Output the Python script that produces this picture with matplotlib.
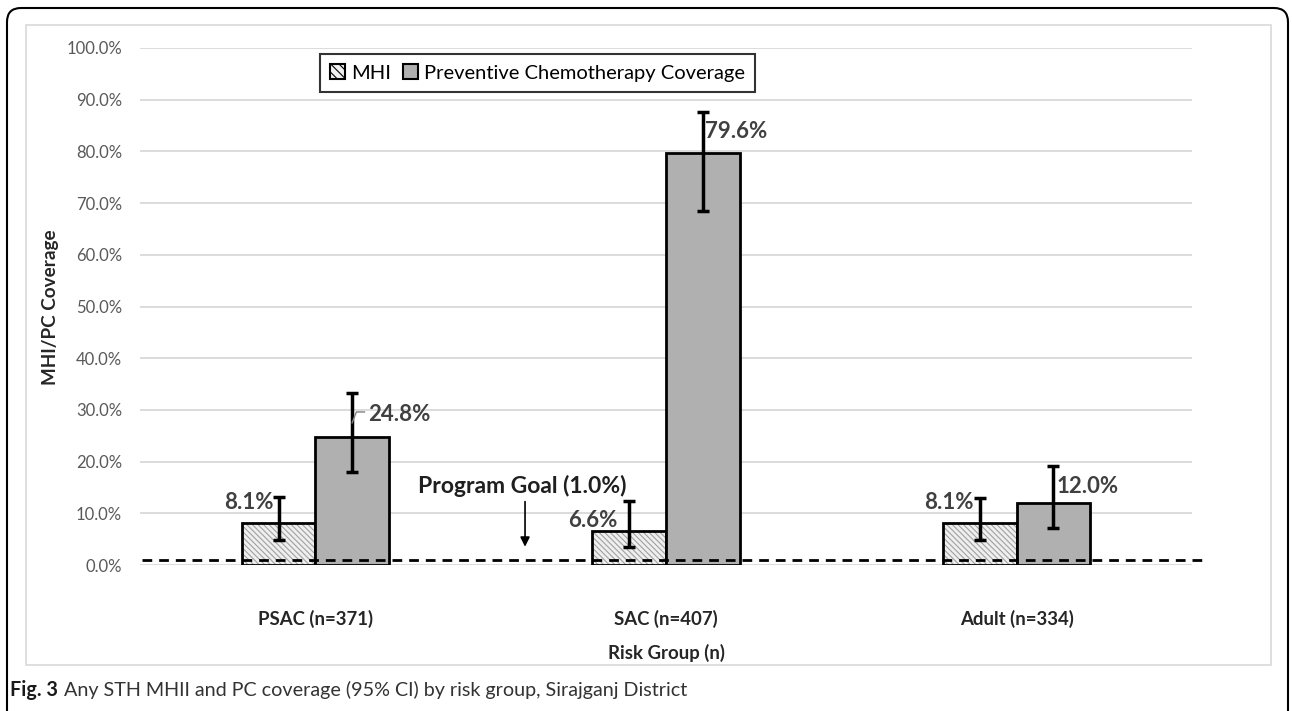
import numpy as np
import matplotlib
matplotlib.use("Agg")
import matplotlib.pyplot as plt
from matplotlib.patches import Patch, FancyBboxPatch, Rectangle

plt.rcParams["font.family"] = ["Lato", "DejaVu Sans"]

# datos
grupos = ["PSAC (n=371)", "SAC (n=407)", "Adult (n=334)"]
mhi = [8.1, 6.6, 8.1]
mhi_ci_low = [4.8, 3.5, 4.8]
mhi_ci_high = [13.2, 12.4, 13.0]
pc = [24.8, 79.6, 12.0]
pc_ci_low = [17.9, 68.5, 7.2]
pc_ci_high = [33.3, 87.6, 19.1]
meta = 1.0
yticks = np.arange(0, 101, 10)

# posiciones de las etiquetas de valor (coordenadas de datos)
pos_mhi = [(-0.118, 12.0), (0.863, 8.7), (1.878, 12.0)]
pos_pc = [(0.150, 29.2), (1.111, 83.8), (2.115, 15.1)]

W, H = 1292, 711
fig = plt.figure(figsize=(W / 100, H / 100), dpi=100)
ax = fig.add_axes([140 / W, 146 / H, 1052 / W, 517 / H])

x = np.arange(len(grupos))
ancho = 0.21
x_mhi = x - ancho / 2
x_pc = x + ancho / 2

# barras MHI con rayado gris y borde negro aparte
plt.rcParams["hatch.linewidth"] = 0.8
ax.bar(x_mhi, mhi, ancho, color="#efefef", edgecolor="#a0a0a0",
       hatch="\\\\\\\\\\\\", linewidth=0, zorder=2)
ax.bar(x_mhi, mhi, ancho, facecolor="none", edgecolor="black",
       linewidth=2, zorder=3)
ax.bar(x_pc, pc, ancho, color="#b0b0b0", edgecolor="black",
       linewidth=2, zorder=3)

err_mhi = [np.subtract(mhi, mhi_ci_low), np.subtract(mhi_ci_high, mhi)]
err_pc = [np.subtract(pc, pc_ci_low), np.subtract(pc_ci_high, pc)]
ax.errorbar(x_mhi, mhi, yerr=err_mhi, fmt="none", ecolor="black",
            elinewidth=2.5, capsize=4, capthick=2.5, zorder=4)
ax.errorbar(x_pc, pc, yerr=err_pc, fmt="none", ecolor="black",
            elinewidth=2.5, capsize=4, capthick=2.5, zorder=4)

# etiquetas de valor
for (px, py), v in zip(pos_mhi, mhi):
    ax.text(px, py, f"{v:.1f}%", ha="right", va="center", fontsize=16,
            fontweight="bold", color="#404040", zorder=5)
for (px, py), v in zip(pos_pc, pc):
    ax.text(px, py, f"{v:.1f}%", ha="left", va="center", fontsize=16,
            fontweight="bold", color="#404040", zorder=5)
# pequeña línea guía de 24.8%
ax.plot([x_pc[0], x_pc[0] + 0.012, x_pc[0] + 0.035], [27.5, 29.6, 29.6],
        color="#808080", lw=1, zorder=5)

# meta del programa
ax.axhline(meta, xmin=0.002, xmax=1.01, color="black", lw=2,
           linestyle=(0, (3.5, 2.5)), clip_on=False, zorder=6)
ax.text(0.589, 15.3, f"Program Goal ({meta:.1f}%)", ha="center", va="center",
        fontsize=16.5, fontweight="bold", color="#1f1f1f")
ax.annotate("", xy=(0.598, meta + 2.0), xytext=(0.598, 12.8),
            arrowprops=dict(arrowstyle="-|>", color="black", lw=1.2,
                            mutation_scale=14))

# ejes
ax.set_xlim(-0.5, 2.5)
ax.set_ylim(0, 100)
ax.set_yticks(yticks)
ax.set_yticklabels([f"{t:.1f}%" for t in yticks], fontsize=12, color="#595959")
ax.set_xticks(x)
ax.set_xticklabels(grupos, fontsize=13.4, fontweight="bold", color="#262626")
ax.tick_params(axis="both", length=0)
ax.tick_params(axis="y", pad=13)
ax.tick_params(axis="x", pad=32)
ax.grid(axis="y", color="#d9d9d9", lw=1.3, zorder=0)
for s in ax.spines.values():
    s.set_visible(False)
ax.set_axisbelow(True)

ax.set_xlabel("Risk Group (n)", fontsize=13.4, fontweight="bold",
              color="#262626", labelpad=12)
fig.text(51 / W, 1 - 307 / H, "MHI/PC Coverage", rotation=90, ha="center",
         va="center", fontsize=13.6, fontweight="bold", color="#262626")

# leyenda
handles = [
    Patch(facecolor="#efefef", edgecolor="black", hatch="\\\\\\\\", lw=1.5),
    Patch(facecolor="#b0b0b0", edgecolor="black", lw=1.5),
]
leg = ax.legend(handles, ["MHI", "Preventive Chemotherapy Coverage"],
                loc="upper left", bbox_to_anchor=(0.171, 0.988), ncol=2,
                fontsize=14.5, frameon=True, fancybox=False,
                handlelength=0.75, handleheight=0.75, handletextpad=0.3,
                columnspacing=0.6, borderpad=0.5, borderaxespad=0)
leg.get_frame().set_edgecolor("black")
leg.get_frame().set_linewidth(1.5)

# marcos
fig.patches.append(Rectangle((26, H - 665), 1245, 640, transform=None,
                             fill=False, edgecolor="#d9d9d9", lw=1.2))
fig.patches.append(FancyBboxPatch((7, -20), 1281, H - 8 + 20, transform=None,
                                  boxstyle="round,pad=0,rounding_size=14",
                                  fill=False, edgecolor="black", lw=1.5))

# pie de figura
t = fig.text(10 / W, 1 - 690 / H, "Fig. 3", fontsize=14.2, fontweight="bold",
             color="#1a1a1a", va="center")
fig.canvas.draw()
bb = t.get_window_extent()
fig.text((bb.x1 + 6) / W, 1 - 690 / H,
         "Any STH MHII and PC coverage (95% CI) by risk group, Sirajganj District",
         fontsize=14.2, color="#333333", va="center")

fig.savefig("out.png", dpi=100)
